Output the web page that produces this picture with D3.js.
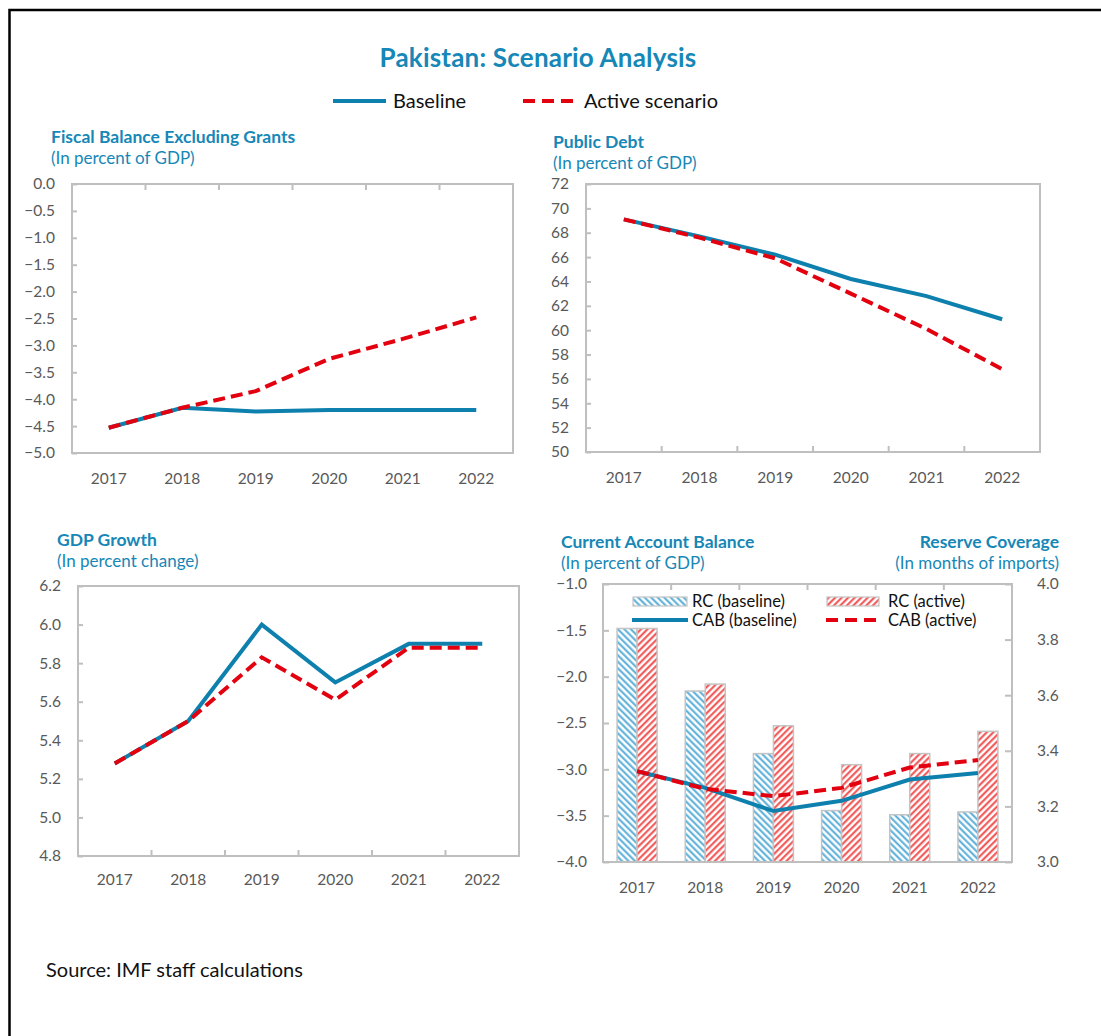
<!DOCTYPE html>
<html>
<head>
<meta charset="utf-8">
<script src="https://cdn.jsdelivr.net/npm/d3@7"></script>
<style>
  body { margin: 0; background: #fff; }
  text { font-family: Lato, "Open Sans", sans-serif; }
</style>
</head>
<body>
<svg id="chart" width="1101" height="1036"></svg>
<script>
// data
const years = ["2017", "2018", "2019", "2020", "2021", "2022"];

const fiscalBaseline = [-4.53, -4.16, -4.23, -4.2, -4.2, -4.2];
const fiscalActive   = [-4.53, -4.16, -3.85, -3.25, -2.88, -2.48];
const fiscalTicks    = [0, -0.5, -1, -1.5, -2, -2.5, -3, -3.5, -4, -4.5, -5];

const debtBaseline = [69.1, 67.7, 66.2, 64.2, 62.8, 60.9];
const debtActive   = [69.1, 67.6, 65.9, 63.0, 60.1, 56.8];
const debtTicks    = [50, 52, 54, 56, 58, 60, 62, 64, 66, 68, 70, 72];

const gdpBaseline = [5.28, 5.5, 6.0, 5.7, 5.9, 5.9];
const gdpActive   = [5.28, 5.5, 5.83, 5.61, 5.88, 5.88];
const gdpTicks    = [4.8, 5.0, 5.2, 5.4, 5.6, 5.8, 6.0, 6.2];

const cabBaseline = [-3.02, -3.2, -3.45, -3.34, -3.11, -3.04];
const cabActive   = [-3.02, -3.21, -3.29, -3.2, -2.98, -2.9];
const rcBaseline  = [3.84, 3.615, 3.39, 3.185, 3.17, 3.18];
const rcActive    = [3.84, 3.64, 3.49, 3.35, 3.39, 3.47];
const cabTicks    = [-1, -1.5, -2, -2.5, -3, -3.5, -4];
const rcTicks     = [3.0, 3.2, 3.4, 3.6, 3.8, 4.0];

const BLUE = "#0e80ae";
const TITLE = "#1687b6";
const RED = "#e3000f";
const GRID = "#bfbfbf";
const LABEL = "#595959";

const svg = d3.select("#chart");
const defs = svg.append("defs");

function hatch(id, color, angle) {
    defs.append("pattern")
        .attr("id", id)
        .attr("patternUnits", "userSpaceOnUse")
        .attr("width", 4.6).attr("height", 4.6)
        .attr("patternTransform", `rotate(${angle})`)
      .call(p => p.append("rect").attr("width", 4.6).attr("height", 4.6).attr("fill", "#fff"))
      .append("line")
        .attr("x1", 1.2).attr("y1", 0).attr("x2", 1.2).attr("y2", 4.6)
        .attr("stroke", color).attr("stroke-width", 2);
}
hatch("hatchBlue", "#56acd6", -45);
hatch("hatchRed", "#f24b4b", 45);

// outer frame
svg.append("rect")
    .attr("x", 9.5).attr("y", 10).attr("width", 1200).attr("height", 1200)
    .attr("fill", "none").attr("stroke", "#000").attr("stroke-width", 2.5);

svg.append("text")
    .attr("x", 538).attr("y", 67)
    .attr("text-anchor", "middle")
    .attr("font-size", 26).attr("font-weight", "bold")
    .attr("letter-spacing", 0.2)
    .attr("fill", TITLE)
    .text("Pakistan: Scenario Analysis");

// top legend
svg.append("line").attr("x1", 333).attr("x2", 386).attr("y1", 101).attr("y2", 101)
    .attr("stroke", BLUE).attr("stroke-width", 4);
svg.append("text").attr("x", 393).attr("y", 108).attr("font-size", 20).attr("fill", "#111").text("Baseline");
svg.append("line").attr("x1", 523).attr("x2", 574).attr("y1", 101).attr("y2", 101)
    .attr("stroke", RED).attr("stroke-width", 4).attr("stroke-dasharray", "12,7");
svg.append("text").attr("x", 584).attr("y", 108).attr("font-size", 20).attr("fill", "#111").text("Active scenario");

function panelTitle(x, y, title, sub, anchor) {
    svg.append("text").attr("x", x).attr("y", y)
        .attr("text-anchor", anchor || "start")
        .attr("font-size", 17.5).attr("font-weight", "bold").attr("fill", TITLE)
        .text(title);
    svg.append("text").attr("x", x).attr("y", y + 21)
        .attr("text-anchor", anchor || "start")
        .attr("font-size", 17).attr("fill", TITLE)
        .text(sub);
}

// one line panel; axisTop = category axis drawn at the top edge
function linePanel(opt) {
    const g = svg.append("g");
    const x = d3.scaleBand().domain(years).range([opt.left, opt.right]);
    const y = d3.scaleLinear().domain(opt.domain).range([opt.bottom, opt.top]);
    const cx = d => x(d) + x.bandwidth() / 2;

    g.append("rect")
        .attr("x", opt.left).attr("y", opt.top)
        .attr("width", opt.right - opt.left).attr("height", opt.bottom - opt.top)
        .attr("fill", "none").attr("stroke", GRID).attr("stroke-width", 2);

    const ya = g.append("g").attr("transform", `translate(${opt.left},0)`)
        .call(d3.axisLeft(y).tickValues(opt.ticks).tickFormat(opt.fmt)
              .tickSize(-5).tickSizeOuter(0).tickPadding(17));
    ya.select(".domain").remove();
    ya.selectAll("line").attr("stroke", GRID).attr("stroke-width", 2);
    ya.selectAll("text").attr("font-size", 15.5).attr("fill", LABEL).attr("font-family", null);

    // tick marks between categories
    const axisY = opt.axisTop ? opt.top : opt.bottom;
    const dir = opt.axisTop ? 1 : -1;
    g.selectAll(".cat-tick").data(years.slice(1)).enter().append("line")
        .attr("x1", d => x(d)).attr("x2", d => x(d))
        .attr("y1", axisY).attr("y2", axisY + dir * 6)
        .attr("stroke", GRID).attr("stroke-width", 2);

    const xa = g.append("g").attr("transform", `translate(0,${opt.bottom})`)
        .call(d3.axisBottom(x).tickSize(0).tickPadding(opt.labelPad));
    xa.select(".domain").remove();
    xa.selectAll("text").attr("font-size", 15.5).attr("fill", LABEL).attr("font-family", null);
    if (opt.clipLabels) {
        defs.append("clipPath").attr("id", opt.clipLabels)
            .append("rect").attr("x", 0).attr("y", 0).attr("width", 1101).attr("height", opt.clipLabelsY - opt.bottom);
        xa.attr("clip-path", `url(#${opt.clipLabels})`);
    }

    const line = d3.line().x((d, i) => cx(years[i])).y(d => y(d));
    g.append("path").datum(opt.base)
        .attr("d", line).attr("fill", "none")
        .attr("stroke", BLUE).attr("stroke-width", 4);
    g.append("path").datum(opt.active)
        .attr("d", line).attr("fill", "none")
        .attr("stroke", RED).attr("stroke-width", 4).attr("stroke-dasharray", "12,6");
}

panelTitle(51, 143, "Fiscal Balance Excluding Grants", "(In percent of GDP)");
linePanel({
    left: 72, right: 513, top: 184, bottom: 453,
    domain: [-5, 0], ticks: fiscalTicks, fmt: d3.format(".1f"),
    base: fiscalBaseline, active: fiscalActive,
    axisTop: true, labelPad: 20, clipLabels: "clipFiscal", clipLabelsY: 484
});

panelTitle(553, 148, "Public Debt", "(In percent of GDP)");
linePanel({
    left: 586, right: 1040, top: 184, bottom: 452,
    domain: [50, 72], ticks: debtTicks, fmt: d3.format("d"),
    base: debtBaseline, active: debtActive,
    axisTop: false, labelPad: 20
});

panelTitle(57, 546, "GDP Growth", "(In percent change)");
linePanel({
    left: 78, right: 519, top: 586, bottom: 856,
    domain: [4.8, 6.2], ticks: gdpTicks, fmt: d3.format(".1f"),
    base: gdpBaseline, active: gdpActive,
    axisTop: false, labelPad: 18
});

// current account + reserve coverage panel
panelTitle(561, 548, "Current Account Balance", "(In percent of GDP)");
panelTitle(1059, 548, "Reserve Coverage", "(In months of imports)", "end");
(function () {
    const L = 603, R = 1012, T = 584, B = 862;
    const g = svg.append("g");
    const x = d3.scaleBand().domain(years).range([L, R]);
    const series = d3.scaleBand().domain(["base", "active"]).range([0, 40]);
    const yL = d3.scaleLinear().domain([-4, -1]).range([B, T]);
    const yR = d3.scaleLinear().domain([3, 4]).range([B, T]);
    const cx = d => x(d) + x.bandwidth() / 2;

    const rc = years.map((d, i) => [
        { year: d, key: "base", v: rcBaseline[i] },
        { year: d, key: "active", v: rcActive[i] }
    ]).flat();

    g.selectAll(".bar").data(rc).enter().append("rect")
        .attr("x", d => cx(d.year) - 20 + series(d.key))
        .attr("width", series.bandwidth())
        .attr("y", d => yR(d.v))
        .attr("height", d => B - yR(d.v))
        .attr("fill", d => d.key === "base" ? "url(#hatchBlue)" : "url(#hatchRed)")
        .attr("stroke", "#c4c4c4").attr("stroke-width", 1.5);

    g.append("rect")
        .attr("x", L).attr("y", T).attr("width", R - L).attr("height", B - T)
        .attr("fill", "none").attr("stroke", GRID).attr("stroke-width", 2);

    const la = g.append("g").attr("transform", `translate(${L},0)`)
        .call(d3.axisLeft(yL).tickValues(cabTicks).tickFormat(d3.format(".1f"))
              .tickSize(-6).tickSizeOuter(0).tickPadding(16));
    la.select(".domain").remove();
    la.selectAll("line").attr("stroke", GRID).attr("stroke-width", 2);
    la.selectAll("text").attr("font-size", 15.5).attr("fill", LABEL).attr("font-family", null);

    const ra = g.append("g").attr("transform", `translate(${R},0)`)
        .call(d3.axisRight(yR).tickValues(rcTicks).tickFormat(d3.format(".1f"))
              .tickSize(-7).tickSizeOuter(0).tickPadding(25));
    ra.select(".domain").remove();
    ra.selectAll("line").attr("stroke", GRID).attr("stroke-width", 2);
    ra.selectAll("text").attr("font-size", 15.5).attr("fill", LABEL).attr("font-family", null);

    g.selectAll(".cat-tick").data(years.slice(1)).enter().append("line")
        .attr("x1", d => x(d)).attr("x2", d => x(d))
        .attr("y1", T).attr("y2", T + 6)
        .attr("stroke", GRID).attr("stroke-width", 2);

    const xa = g.append("g").attr("transform", `translate(0,${B})`)
        .call(d3.axisBottom(x).tickSize(0).tickPadding(20));
    xa.select(".domain").remove();
    xa.selectAll("text").attr("font-size", 15.5).attr("fill", LABEL).attr("font-family", null);

    const line = d3.line().x((d, i) => cx(years[i])).y(d => yL(d));
    g.append("path").datum(cabBaseline).attr("d", line).attr("fill", "none")
        .attr("stroke", BLUE).attr("stroke-width", 4);
    g.append("path").datum(cabActive).attr("d", line).attr("fill", "none")
        .attr("stroke", RED).attr("stroke-width", 4).attr("stroke-dasharray", "12,6");

    // legend inside the plot
    const leg = g.append("g");
    leg.append("rect").attr("x", 633).attr("y", 597).attr("width", 54).attr("height", 9)
        .attr("fill", "url(#hatchBlue)").attr("stroke", "#c4c4c4").attr("stroke-width", 1.2);
    leg.append("text").attr("x", 692).attr("y", 607).attr("font-size", 16.5).attr("fill", "#111").text("RC (baseline)");
    leg.append("rect").attr("x", 827).attr("y", 597).attr("width", 52).attr("height", 9)
        .attr("fill", "url(#hatchRed)").attr("stroke", "#c4c4c4").attr("stroke-width", 1.2);
    leg.append("text").attr("x", 888).attr("y", 607).attr("font-size", 16.5).attr("fill", "#111").text("RC (active)");
    leg.append("line").attr("x1", 632).attr("x2", 688).attr("y1", 620).attr("y2", 620)
        .attr("stroke", BLUE).attr("stroke-width", 4);
    leg.append("text").attr("x", 692).attr("y", 626).attr("font-size", 16.5).attr("fill", "#111").text("CAB (baseline)");
    leg.append("line").attr("x1", 826).attr("x2", 878).attr("y1", 620).attr("y2", 620)
        .attr("stroke", RED).attr("stroke-width", 4).attr("stroke-dasharray", "12,7");
    leg.append("text").attr("x", 888).attr("y", 626).attr("font-size", 16.5).attr("fill", "#111").text("CAB (active)");
})();

svg.append("text")
    .attr("x", 46).attr("y", 977)
    .attr("font-size", 20).attr("fill", "#111")
    .text("Source: IMF staff calculations");
</script>
</body>
</html>
